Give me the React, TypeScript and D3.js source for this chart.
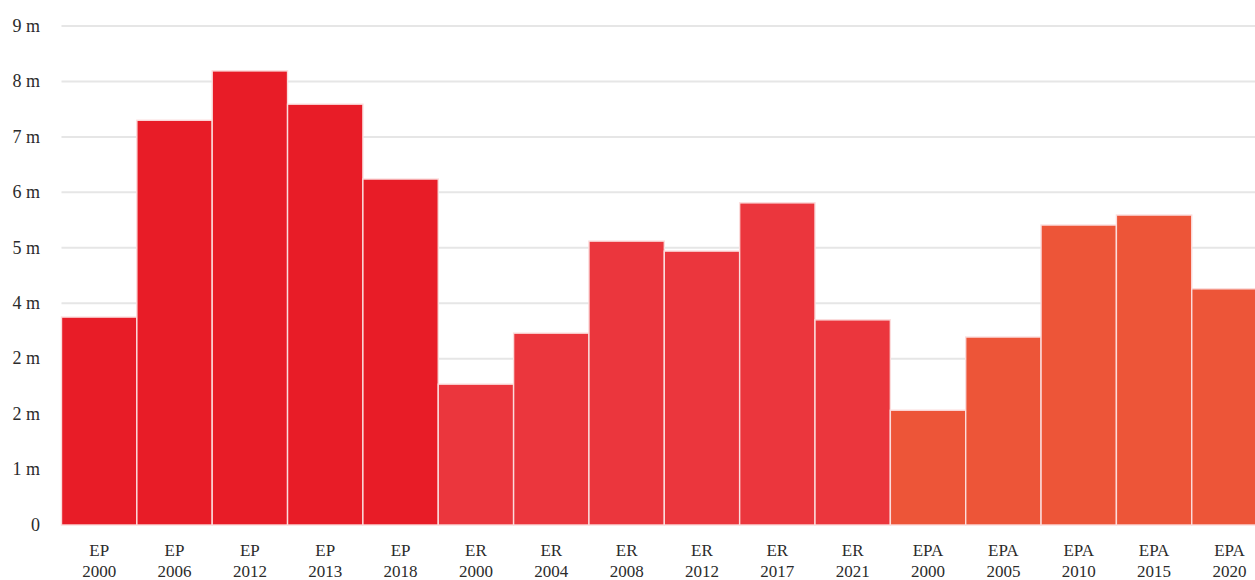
import React from 'react';
import * as d3 from 'd3';

// bar data (millions)
const groups = ['EP', 'EP', 'EP', 'EP', 'EP', 'ER', 'ER', 'ER', 'ER', 'ER', 'ER', 'EPA', 'EPA', 'EPA', 'EPA', 'EPA'];
const years = ['2000', '2006', '2012', '2013', '2018', '2000', '2004', '2008', '2012', '2017', '2021', '2000', '2005', '2010', '2015', '2020'];
const values = [3.75, 7.3, 8.19, 7.59, 6.24, 2.54, 3.46, 5.12, 4.94, 5.81, 3.7, 2.07, 3.39, 5.41, 5.59, 4.26];

// the y tick labels as printed (the 3 m tick really says "2 m")
const yTicks = [0, 1, 2, 3, 4, 5, 6, 7, 8, 9];
const yTickLabels = ['0', '1 m', '2 m', '2 m', '4 m', '5 m', '6 m', '7 m', '8 m', '9 m'];

const groupColors = { EP: '#e81c27', ER: '#eb363d', EPA: '#ed5538' };

const width = 1255, height = 580;
const margin = { left: 61.5, top: 26, bottom: 525 };
const font = '"Liberation Serif", "DejaVu Serif", serif';

export default function App() {
    const ids = years.map((y, i) => i);

    const x = d3.scaleBand<number>()
        .domain(ids)
        .range([margin.left, margin.left + 75.35 * ids.length])
        .padding(0);

    const y = d3.scaleLinear()
        .domain([0, 9])
        .range([margin.bottom, margin.top]);

    return (
        <svg width={width} height={height}
            style={{ position: 'absolute', left: 0, top: 0, overflow: 'hidden', background: '#fff' }}>
            <g>
                {yTicks.map((d, i) => (
                    <g key={i} transform={`translate(0,${y(d)})`}>
                        {d > 0 ?
                            <line x1={margin.left} x2={width} y1={0} y2={0} stroke="#e6e6e6" strokeWidth={2} />
                            : null}
                        <text x={40} y={0} dy="0.32em" textAnchor="end"
                            fontFamily={font} fontSize={18} fill="#2b2b2b">{yTickLabels[i]}</text>
                    </g>
                ))}
            </g>
            <g>
                {ids.map(i => (
                    <rect key={i}
                        x={x(i)} y={y(values[i])}
                        width={x.bandwidth()} height={y(0) - y(values[i])}
                        fill={groupColors[groups[i]]}
                        stroke="#fbdcdc" strokeWidth={1.4} />
                ))}
            </g>
            <g>
                {ids.map(i => (
                    <text key={i} x={x(i) + x.bandwidth() / 2} y={556}
                        textAnchor="middle" fontFamily={font} fontSize={17} fill="#2b2b2b">
                        <tspan x={x(i) + x.bandwidth() / 2}>{groups[i]}</tspan>
                        <tspan x={x(i) + x.bandwidth() / 2} dy={21}>{years[i]}</tspan>
                    </text>
                ))}
            </g>
        </svg>
    );
}
